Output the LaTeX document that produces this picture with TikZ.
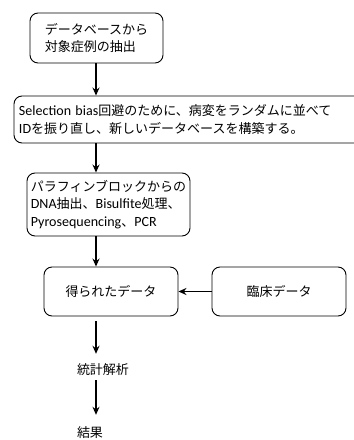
\documentclass[tikz,border=0pt]{standalone}
\usepackage{fontspec}
\setmainfont{Noto Sans CJK JP}
\newfontfamily\lat[Scale=1.08]{Carlito}
\usetikzlibrary{arrows.meta}
\begin{document}
\begin{tikzpicture}[x=1pt,y=-1pt,
  box/.style={draw,rounded corners=8pt,line width=0.9pt,align=left,font=\fontsize{13}{17.5}\selectfont},
  lbl/.style={inner sep=0pt,font=\fontsize{13}{17.5}\selectfont},
  arr/.style={line width=1.4pt,-{Stealth[length=8pt,width=7pt]}}]
\useasboundingbox (0,0) rectangle (354,440);
\node[box,minimum width=133pt,minimum height=50pt] (b1) at (96.5,38) {データベースから\\対象症例の抽出};
\node[box,minimum width=348pt,minimum height=47pt,text width=338pt,inner sep=5pt] (b2) at (188,119.5)
  {{\lat Selection bias}回避のために、病変をランダムに並べて\\{\lat ID}を振り直し、新しいデータベースを構築する。};
\node[box,minimum width=163pt,minimum height=63pt] (b3) at (108.5,204.5)
  {パラフィンブロックからの\\{\lat DNA}抽出、{\lat Bisulfite}処理、\\{\lat Pyrosequencing}、{\lat PCR}};
\node[box,minimum width=134pt,minimum height=49pt] (b4) at (111,291.5) {得られたデータ};
\node[box,minimum width=134pt,minimum height=49pt] (b5) at (279,291.5) {臨床データ};
\node[lbl] (s) at (103,370) {統計解析};
\node[lbl] (r) at (90,433) {結果};
\coordinate (ax) at (96,0);
\draw[arr] (b1.south -| ax) -- (b2.north -| ax);
\draw[arr] (b2.south -| ax) -- (b3.north -| ax);
\draw[arr] (b3.south -| ax) -- (b4.north -| ax);
\draw[arr] (b5.west) -- (b4.east);
\draw[arr,shorten <=5pt,shorten >=10pt] (b4.south -| ax) -- (s.north -| ax);
\draw[arr,shorten <=4pt,shorten >=12pt] (s.south -| ax) -- (r.north -| ax);
\end{tikzpicture}
\end{document}
